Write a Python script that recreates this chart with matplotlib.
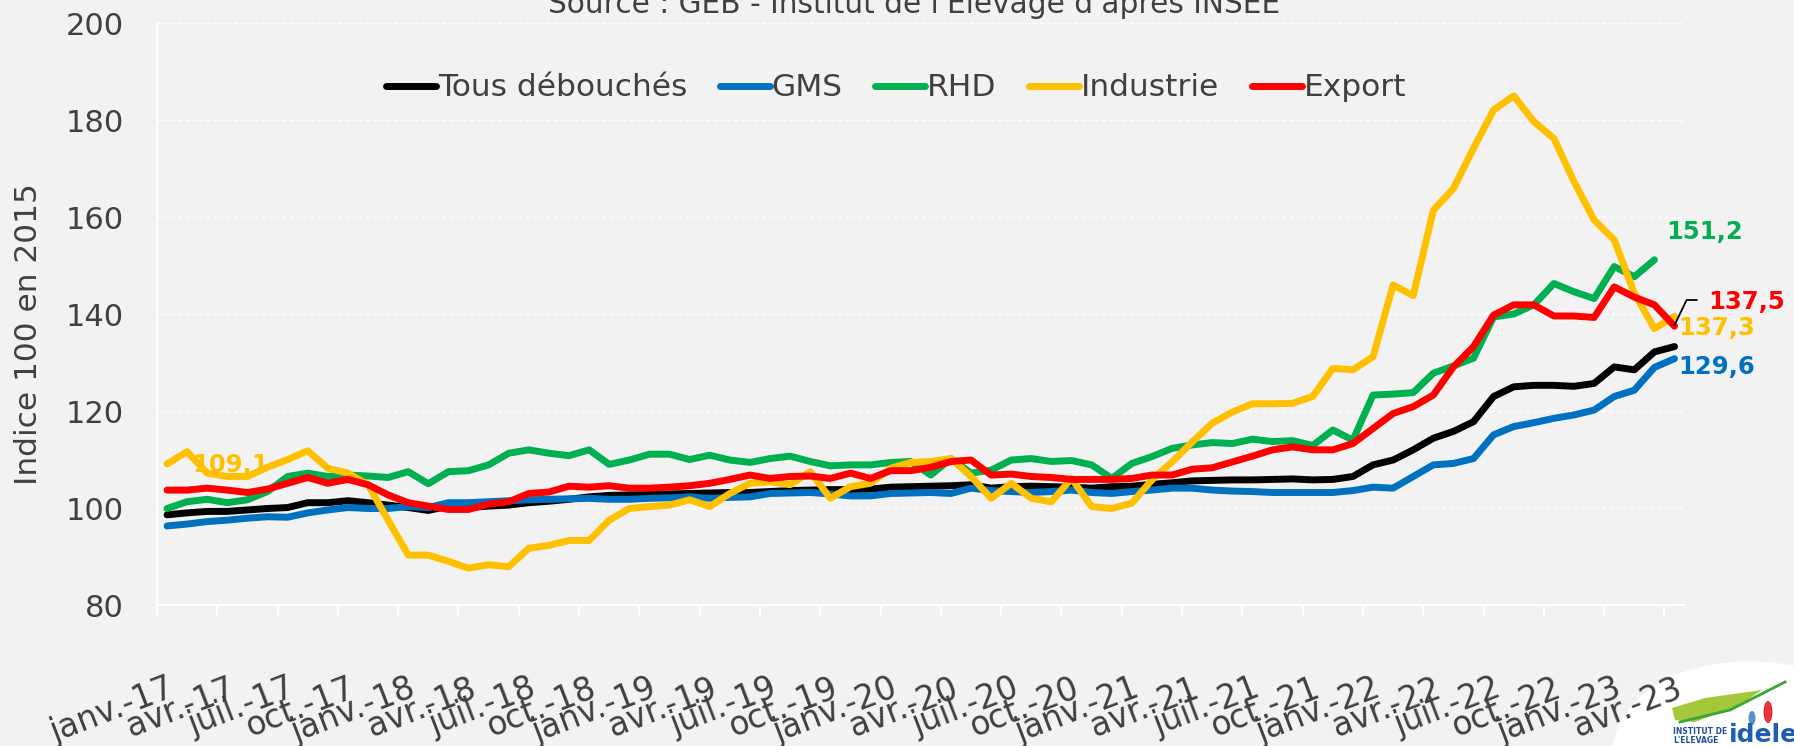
import matplotlib
matplotlib.use("Agg")
import matplotlib.pyplot as plt
from matplotlib.patches import Ellipse, Polygon
import numpy as np

# indices mensuels, janv.-17 -> avr.-23 (base 100 en 2015)
tous = [98.6, 99.0, 99.3, 99.3, 99.6, 99.9, 100.1, 101.1, 101.1, 101.5, 101.1, 100.6,
        100.1, 99.5, 100.4, 100.1, 100.4, 100.6, 101.1, 101.4, 101.8, 102.3, 102.6, 102.7,
        102.8, 102.9, 103.0, 103.1, 103.2, 103.2, 103.4, 103.6, 103.7, 103.8, 103.8, 103.9,
        104.3, 104.4, 104.5, 104.6, 104.8, 104.1, 104.4, 104.5, 104.4, 104.3, 104.1, 104.4,
        104.5, 104.9, 105.2, 105.6, 105.7, 105.8, 105.8, 105.9, 106.0, 105.8, 105.9, 106.5,
        108.9, 109.9, 112.0, 114.4, 115.8, 117.8, 123.0, 125.0, 125.3, 125.3, 125.1, 125.7,
        129.1, 128.5, 132.2, 133.3]
gms = [96.3, 96.7, 97.2, 97.5, 97.9, 98.2, 98.1, 99.0, 99.6, 100.1, 99.9, 99.9,
       100.3, 100.1, 101.1, 101.1, 101.3, 101.5, 101.7, 101.8, 101.9, 102.0, 101.8, 101.8,
       102.0, 102.1, 102.3, 102.0, 102.2, 102.3, 103.0, 103.1, 103.2, 102.9, 102.5, 102.5,
       103.0, 103.1, 103.2, 103.0, 104.1, 103.6, 103.4, 103.2, 103.4, 103.7, 103.2, 103.0,
       103.4, 103.7, 104.1, 104.1, 103.7, 103.5, 103.4, 103.2, 103.2, 103.2, 103.2, 103.6,
       104.3, 104.1, 106.5, 108.9, 109.2, 110.2, 115.1, 116.8, 117.6, 118.5, 119.2, 120.2,
       123.0, 124.3, 129.0, 130.8]
rhd = [99.9, 101.3, 101.8, 101.1, 101.7, 103.4, 106.5, 107.2, 106.5, 106.8, 106.6, 106.3,
       107.5, 105.0, 107.5, 107.7, 108.9, 111.3, 112.0, 111.3, 110.8, 112.0, 109.0, 109.9,
       111.1, 111.1, 110.0, 110.9, 109.9, 109.4, 110.2, 110.7, 109.6, 108.7, 108.9, 108.9,
       109.4, 109.6, 106.8, 110.2, 107.2, 107.8, 109.9, 110.2, 109.6, 109.8, 108.9, 106.1,
       109.2, 110.6, 112.3, 113.0, 113.5, 113.3, 114.2, 113.7, 113.9, 112.9, 116.1, 114.0,
       123.3, 123.5, 123.8, 127.8, 129.3, 130.9, 139.4, 140.0, 141.9, 146.3, 144.6, 143.2,
       149.8, 147.7, 151.2]
industrie = [109.1, 111.6, 107.2, 106.5, 106.5, 108.4, 110.0, 111.8, 108.2, 107.2, 104.8, 97.5,
             90.3, 90.3, 89.0, 87.6, 88.3, 87.9, 91.7, 92.3, 93.3, 93.3, 97.5, 99.9,
             100.3, 100.6, 101.7, 100.3, 103.0, 105.1, 105.4, 104.8, 107.5, 102.0, 104.4, 105.1,
             108.2, 109.4, 109.6, 110.2, 106.5, 102.0, 105.1, 102.0, 101.3, 106.1, 100.3, 99.9,
             101.0, 105.8, 109.5, 113.6, 117.5, 119.8, 121.5, 121.5, 121.6, 123.0, 128.8, 128.5,
             131.2, 146.0, 143.8, 161.4, 165.9, 174.2, 182.1, 185.0, 179.7, 176.2, 167.3, 159.4,
             155.3, 144.3, 137.0, 139.5]
export = [103.7, 103.7, 104.1, 103.7, 103.2, 103.9, 105.1, 106.3, 105.1, 105.9, 104.8, 102.7,
          101.1, 100.4, 99.7, 99.7, 100.8, 101.3, 103.0, 103.3, 104.5, 104.3, 104.6, 104.1,
          104.1, 104.3, 104.6, 105.1, 105.9, 106.8, 106.1, 106.5, 106.6, 106.1, 107.2, 106.1,
          107.7, 107.7, 108.4, 109.6, 109.9, 106.8, 107.0, 106.5, 106.3, 105.9, 105.9, 105.9,
          106.1, 106.8, 106.8, 108.0, 108.3, 109.5, 110.7, 112.0, 112.6, 112.0, 112.0, 113.3,
          116.4, 119.5, 120.9, 123.3, 129.1, 133.3, 139.8, 141.9, 141.9, 139.6, 139.6, 139.3,
          145.6, 143.5, 141.9, 137.5]

tick_labels = ["janv.-17", "avr.-17", "juil.-17", "oct.-17",
               "janv.-18", "avr.-18", "juil.-18", "oct.-18",
               "janv.-19", "avr.-19", "juil.-19", "oct.-19",
               "janv.-20", "avr.-20", "juil.-20", "oct.-20",
               "janv.-21", "avr.-21", "juil.-21", "oct.-21",
               "janv.-22", "avr.-22", "juil.-22", "oct.-22",
               "janv.-23", "avr.-23"]

BG = "#F2F2F2"
TXT = "#404040"
plt.rcParams['font.family'] = ['DejaVu Sans']

fig = plt.figure(figsize=(17.94, 7.46), dpi=100, facecolor=BG)
ax = fig.add_axes([0.0875, 0.189, 0.8515, 0.78], facecolor=BG)

series = [("Tous débouchés", tous, "#000000"),
          ("GMS", gms, "#0070C0"),
          ("RHD", rhd, "#00B050"),
          ("Industrie", industrie, "#FFC000"),
          ("Export", export, "#FF0000")]
for name, vals, col in series:
    ax.plot(np.arange(len(vals)), vals, color=col, lw=5, label=name,
            solid_capstyle="round", solid_joinstyle="round", zorder=3)

ax.set_xlim(-0.5, len(tous) - 0.5)
ax.set_ylim(80, 200)
ax.set_yticks(range(80, 201, 20))
ax.yaxis.grid(True, color="white", ls=(0, (3, 2)), lw=1)
ax.set_axisbelow(True)
for s in ["top", "right"]:
    ax.spines[s].set_visible(False)
ax.spines["left"].set_color("white")
ax.spines["bottom"].set_color("white")
ax.spines["left"].set_linewidth(1.5)
ax.spines["bottom"].set_linewidth(1.5)

ax.set_xticks(np.arange(0, len(tous), 3))
ax.set_xticklabels(tick_labels)
ax.set_xticks(np.arange(-0.5, len(tous), 3), minor=True)
ax.tick_params(axis="x", which="major", length=0, pad=48, labelsize=23.5, labelcolor=TXT)
ax.tick_params(axis="x", which="minor", length=8, width=1.5, color="white")
ax.tick_params(axis="y", length=0, pad=24, labelsize=22, labelcolor=TXT)
plt.setp(ax.get_xticklabels(), rotation=21, ha="right", va="top", rotation_mode="anchor")

fig.text(29 / 1794, 1 - 334 / 746, "Indice 100 en 2015", rotation=90, ha="center",
         va="center", fontsize=22.5, color=TXT)
fig.text(0.5095, 1 - 13 / 746, "Source : GEB - Institut de l'Elevage d'après INSEE",
         ha="center", va="baseline", fontsize=21.3, color=TXT)

fig.legend(loc="center", bbox_to_anchor=(0.4995, 1 - 88 / 746), ncol=5, frameon=False,
           fontsize=22.5, handlelength=1.6, handletextpad=0.05, columnspacing=1.05,
           labelcolor=TXT)

# etiquettes de valeurs
lab = dict(fontweight="bold", fontsize=17.5, va="center", ha="left", clip_on=False)
ax.text(74.6, 156.9, "151,2", color="#00B050", **lab)
ax.text(76.7, 142.5, "137,5", color="#FF0000", **lab)
ax.text(75.2, 137.1, "137,3", color="#FFC000", zorder=4, **lab)
ax.text(75.2, 129.1, "129,6", color="#0070C0", **lab)
ax.text(1.25, 108.9, "109,1", color="#FFC000", zorder=2, **lab)
ax.plot([75.0, 75.6, 76.1], [137.7, 142.9, 142.9], color="black", lw=1.3,
        clip_on=False, zorder=5)

# logo idele (bas droite)
fig.patches.append(Ellipse((1795 / 1794, 1 - 792 / 746), 350 / 1794, 265 / 746,
                           angle=12, transform=fig.transFigure, facecolor="white",
                           edgecolor="none", zorder=-1))
fig.patches.append(Polygon([(1672 / 1794, 1 - 708 / 746), (1705 / 1794, 1 - 698 / 746),
                            (1762 / 1794, 1 - 690 / 746), (1740 / 1794, 1 - 705 / 746),
                            (1695 / 1794, 1 - 722 / 746), (1675 / 1794, 1 - 720 / 746)],
                           closed=True, transform=fig.transFigure, facecolor="#A3C93A",
                           edgecolor="none", zorder=2))
fig.lines.append(plt.Line2D([1680 / 1794, 1730 / 1794, 1785 / 1794],
                            [1 - 722 / 746, 1 - 710 / 746, 1 - 682 / 746],
                            transform=fig.transFigure, color="#3BA535", lw=2, zorder=3))
fig.patches.append(Ellipse((1752 / 1794, 1 - 718 / 746), 7 / 1794, 14 / 746,
                           transform=fig.transFigure, facecolor="#5B8FD0", zorder=3))
fig.patches.append(Ellipse((1768 / 1794, 1 - 712 / 746), 9 / 1794, 22 / 746,
                           transform=fig.transFigure, facecolor="#E8303A", zorder=3))
fig.text(1673 / 1794, 1 - 736 / 746, "INSTITUT DE\nL'ELEVAGE", fontsize=5.5,
         fontweight="bold", color="#1F4E9A", va="center", ha="left", linespacing=0.9,
         zorder=4)
fig.text(1729 / 1794, 1 - 742 / 746, "idele", fontsize=18, fontweight="bold",
         color="#1F5FB0", va="baseline", ha="left", zorder=4)

fig.savefig("out.png", dpi=100, facecolor=BG)
